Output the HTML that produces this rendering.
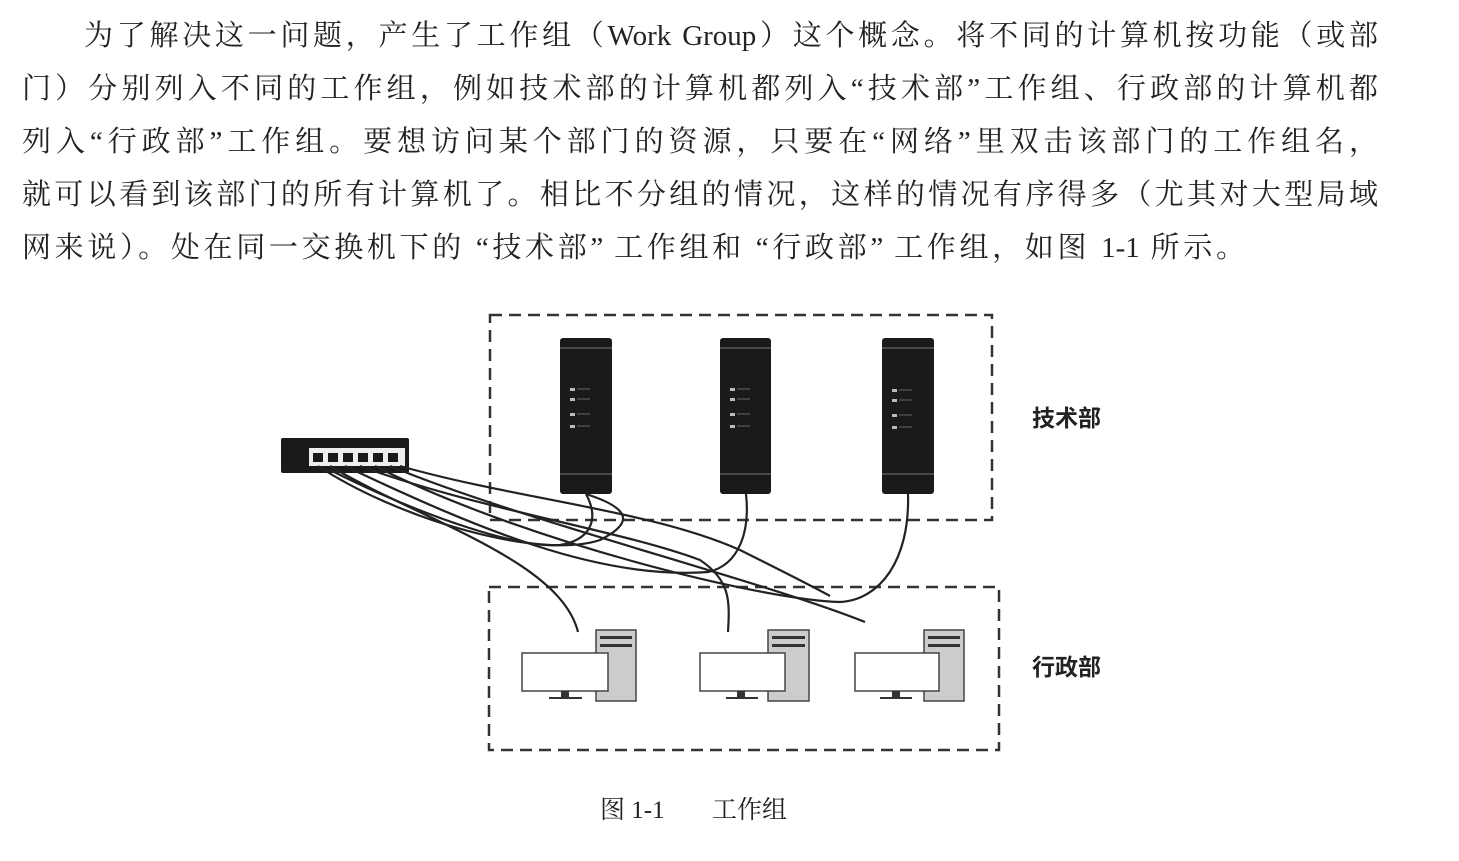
<!DOCTYPE html>
<html><head><meta charset="utf-8"><style>
body{margin:0;width:1459px;height:861px;background:#fff;overflow:hidden;position:relative;font-family:"Liberation Serif","Noto Serif CJK SC",serif;color:#222;}
.l{position:absolute;left:22px;width:1356px;font-size:29px;line-height:40px;white-space:nowrap;}
.j{text-align:justify;text-align-last:justify;}
svg{position:absolute;left:0;top:0;}
</style></head><body>
<div class="l j" style="top:16px;left:84px;width:1294px;">为了解决这一问题，产生了工作组（Work Group）这个概念。将不同的计算机按功能（或部</div>
<div class="l j" style="top:69px;">门）分别列入不同的工作组，例如技术部的计算机都列入“技术部”工作组、行政部的计算机都</div>
<div class="l j" style="top:122px;">列入“行政部”工作组。要想访问某个部门的资源，只要在“网络”里双击该部门的工作组名，</div>
<div class="l j" style="top:175px;">就可以看到该部门的所有计算机了。相比不分组的情况，这样的情况有序得多（尤其对大型局域</div>
<div class="l j" style="top:228px;width:1223px;">网来说）。处在同一交换机下的 “技术部” 工作组和 “行政部” 工作组，如图 1-1 所示。</div>
<svg width="1459" height="861" viewBox="0 0 1459 861">
<g fill="none" stroke="#333" stroke-width="2.5" stroke-dasharray="12 7">
<rect x="490" y="315" width="502" height="205"/>
<rect x="489" y="587" width="510" height="163"/>
</g>
<g>
<rect x="560" y="338" width="52" height="156" rx="3" fill="#1a1a1a"/>
<rect x="720" y="338" width="51" height="156" rx="3" fill="#1a1a1a"/>
<rect x="882" y="338" width="52" height="156" rx="3" fill="#1a1a1a"/>
</g>
<g stroke="#777" stroke-width="1">
<line x1="560" y1="348" x2="612" y2="348"/><line x1="560" y1="474" x2="612" y2="474"/>
<line x1="720" y1="348" x2="771" y2="348"/><line x1="720" y1="474" x2="771" y2="474"/>
<line x1="882" y1="348" x2="934" y2="348"/><line x1="882" y1="474" x2="934" y2="474"/>
</g>
<g fill="#bbb">
<rect x="570" y="388" width="5" height="3"/><rect x="570" y="398" width="5" height="3"/><rect x="570" y="413" width="5" height="3"/><rect x="570" y="425" width="5" height="3"/>
<rect x="730" y="388" width="5" height="3"/><rect x="730" y="398" width="5" height="3"/><rect x="730" y="413" width="5" height="3"/><rect x="730" y="425" width="5" height="3"/>
<rect x="892" y="389" width="5" height="3"/><rect x="892" y="399" width="5" height="3"/><rect x="892" y="414" width="5" height="3"/><rect x="892" y="426" width="5" height="3"/>
</g>
<g stroke="#666" stroke-width="1">
<line x1="577" y1="389" x2="590" y2="389"/><line x1="577" y1="399" x2="590" y2="399"/><line x1="577" y1="414" x2="590" y2="414"/><line x1="577" y1="426" x2="590" y2="426"/>
<line x1="737" y1="389" x2="750" y2="389"/><line x1="737" y1="399" x2="750" y2="399"/><line x1="737" y1="414" x2="750" y2="414"/><line x1="737" y1="426" x2="750" y2="426"/>
<line x1="899" y1="390" x2="912" y2="390"/><line x1="899" y1="400" x2="912" y2="400"/><line x1="899" y1="415" x2="912" y2="415"/><line x1="899" y1="427" x2="912" y2="427"/>
</g>
<rect x="281" y="438" width="128" height="35" rx="2" fill="#1a1a1a"/>
<rect x="309" y="448" width="96" height="18" fill="#eee"/>
<g fill="#1a1a1a"><rect x="313" y="453" width="10" height="9"/><rect x="328" y="453" width="10" height="9"/><rect x="343" y="453" width="10" height="9"/><rect x="358" y="453" width="10" height="9"/><rect x="373" y="453" width="10" height="9"/><rect x="388" y="453" width="10" height="9"/></g>
<g fill="none" stroke="#222" stroke-width="2.2">
<path d="M318 466 C400 520 540 560 600 540 C630 525 636 510 586 494"/>
<path d="M586 494 C600 520 590 540 560 545 C520 548 430 520 330 470"/>
<path d="M330 466 C420 520 560 560 578 632"/>
<path d="M345 466 C480 530 600 580 708 572 C740 565 750 530 746 494"/>
<path d="M360 466 C480 510 620 530 700 560 C730 580 730 600 728 632"/>
<path d="M375 466 C520 540 760 600 840 602 C880 600 910 560 908 494"/>
<path d="M390 466 C520 520 760 580 865 622"/>
<path d="M400 466 C520 500 650 510 740 550 C780 570 810 585 830 596"/>
</g>
<g stroke="#444" stroke-width="1.5">
<rect x="596" y="630" width="40" height="71" fill="#ccc"/>
<rect x="768" y="630" width="41" height="71" fill="#ccc"/>
<rect x="924" y="630" width="40" height="71" fill="#ccc"/>
<rect x="522" y="653" width="86" height="38" fill="#fff"/>
<rect x="700" y="653" width="85" height="38" fill="#fff"/>
<rect x="855" y="653" width="84" height="38" fill="#fff"/>
</g>
<g fill="#333">
<rect x="600" y="636" width="32" height="3"/><rect x="600" y="644" width="32" height="3"/>
<rect x="772" y="636" width="33" height="3"/><rect x="772" y="644" width="33" height="3"/>
<rect x="928" y="636" width="32" height="3"/><rect x="928" y="644" width="32" height="3"/>
<rect x="561" y="691" width="8" height="6"/><rect x="549" y="697" width="33" height="2"/>
<rect x="737" y="691" width="8" height="6"/><rect x="726" y="697" width="32" height="2"/>
<rect x="892" y="691" width="8" height="6"/><rect x="880" y="697" width="32" height="2"/>
</g>
<g font-family="Liberation Sans,'Noto Sans CJK SC',sans-serif" font-size="23" font-weight="bold" fill="#222">
<text x="1032" y="426">技术部</text>
<text x="1032" y="675">行政部</text>
</g>
<text x="600" y="818" font-family="Liberation Serif,'Noto Serif CJK SC',serif" font-size="25" fill="#222">图 1-1<tspan x="712">工作组</tspan></text>
</svg>
</body></html>
